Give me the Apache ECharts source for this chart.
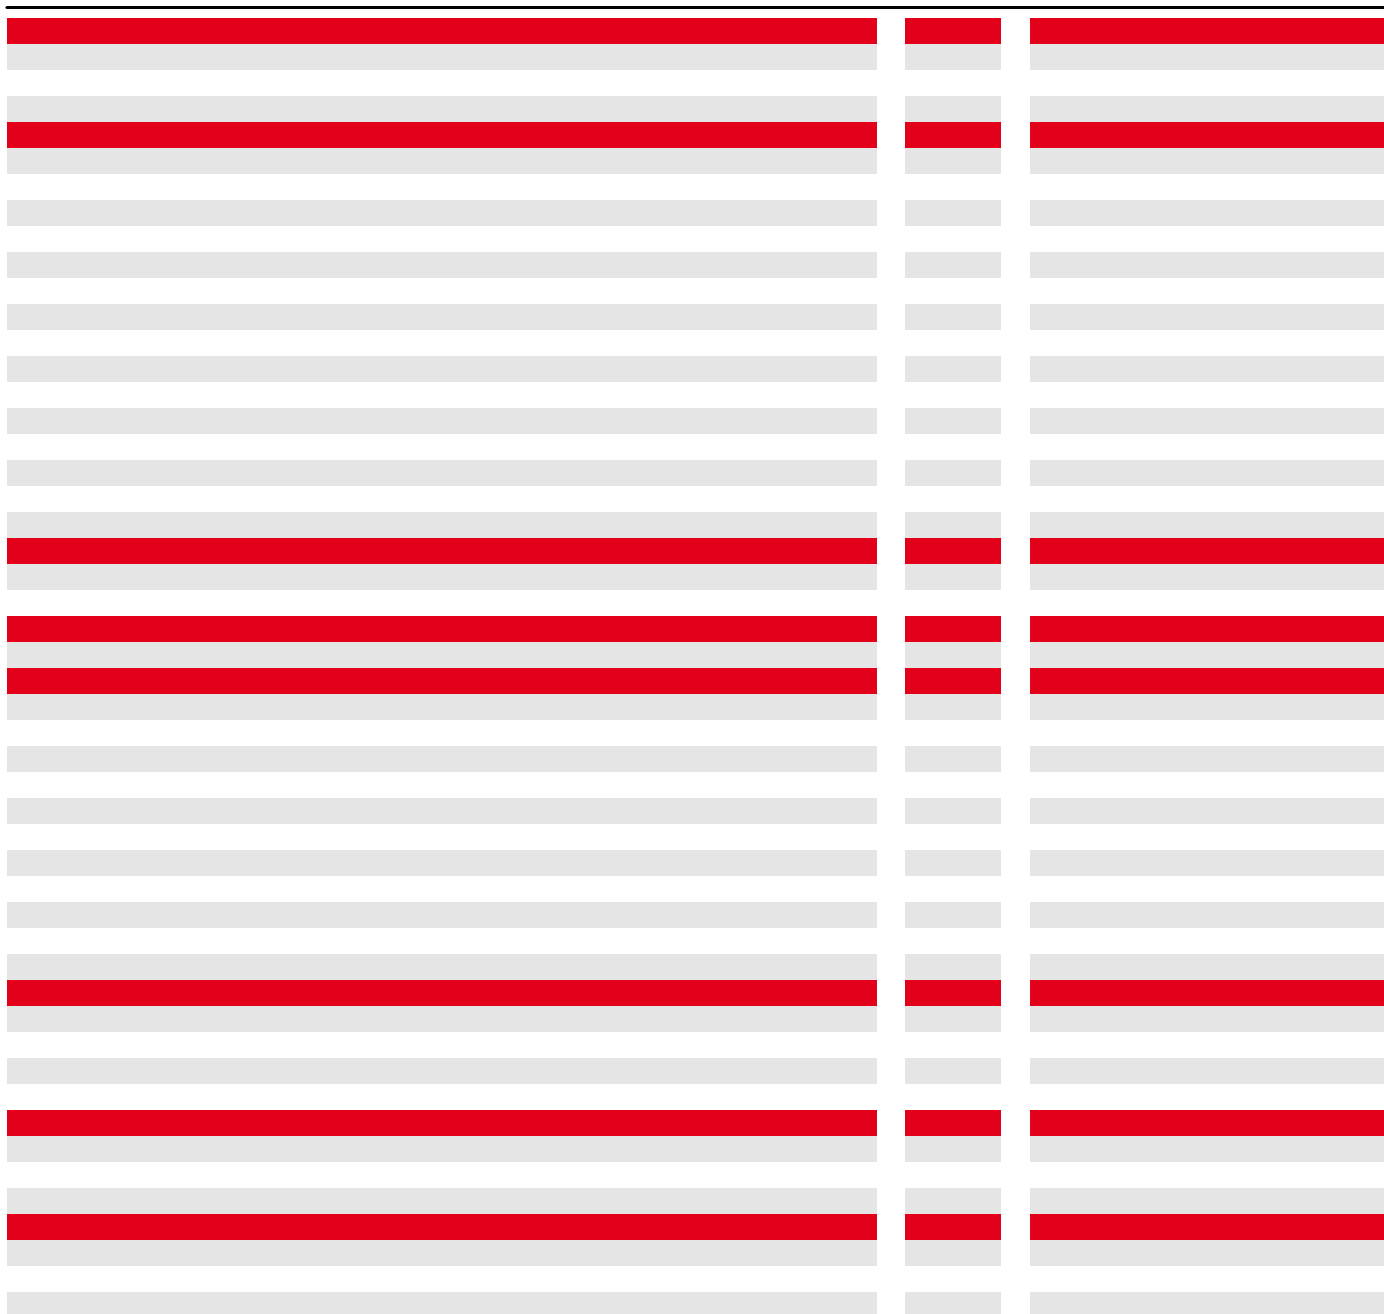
<!DOCTYPE html>
<html>
<head>
<meta charset="utf-8">
<script src="https://cdn.jsdelivr.net/npm/echarts@6/dist/echarts.min.js"></script>
<style>
    html, body { margin: 0; padding: 0; background: #fff; }
    #chart { width: 1384px; height: 1314px; }
</style>
</head>
<body>
<div id="chart"></div>
<script>
// row state, top to bottom: "hl" = highlighted, "band" = shaded band, "" = empty
const rowKinds = [
    "hl", "band", "", "band", "hl", "band", "", "band", "", "band",
    "", "band", "", "band", "", "band", "", "band", "", "band",
    "hl", "band", "", "hl", "band", "hl", "band", "", "band", "",
    "band", "", "band", "", "band", "", "band", "hl", "band", "",
    "band", "", "hl", "band", "", "band", "hl", "band", "", "band"
];
const rowNames = rowKinds.map((k, i) => "row " + (i + 1));
const columnNames = ["col1", "col2", "col3"];

const RED = "#e2001a";
const GRAY = "#e5e5e5";

const chart = echarts.init(document.getElementById("chart"));

// column layout in px
const colBoxes = [
    { left: 7, width: 870 },
    { left: 905, width: 96 },
    { left: 1030, width: 354 }
];

// 50 rows of 26px, the last one runs past the bottom edge
const grids = colBoxes.map(b => ({
    left: b.left, width: b.width, top: 18, height: 1300, outerBoundsMode: "none"
}));
// full-width grid just for the top rule
grids.push({ left: 7, right: 0, top: 18, height: 1300, outerBoundsMode: "none" });

const xAxes = grids.map((g, i) => ({
    gridIndex: i,
    type: "value",
    min: 0,
    max: 1,
    position: "top",
    offset: i === 3 ? 10.5 : 0,
    show: i === 3,
    axisLine: { show: true, lineStyle: { color: "#000", width: 3 } },
    axisTick: { show: false },
    axisLabel: { show: false },
    splitLine: { show: false }
}));

const yAxes = grids.map((g, i) => ({
    gridIndex: i,
    type: "category",
    inverse: true,
    data: rowNames,
    show: false
}));

const series = columnNames.map((name, ci) => ({
    name: name,
    type: "bar",
    xAxisIndex: ci,
    yAxisIndex: ci,
    barWidth: "100%",
    barCategoryGap: "0%",
    silent: true,
    data: rowKinds.map(k => k ? {
        value: 1,
        itemStyle: { color: k === "hl" ? RED : GRAY }
    } : "-")
}));

chart.setOption({
    animation: false,
    grid: grids,
    xAxis: xAxes,
    yAxis: yAxes,
    series: series
});
</script>
</body>
</html>
